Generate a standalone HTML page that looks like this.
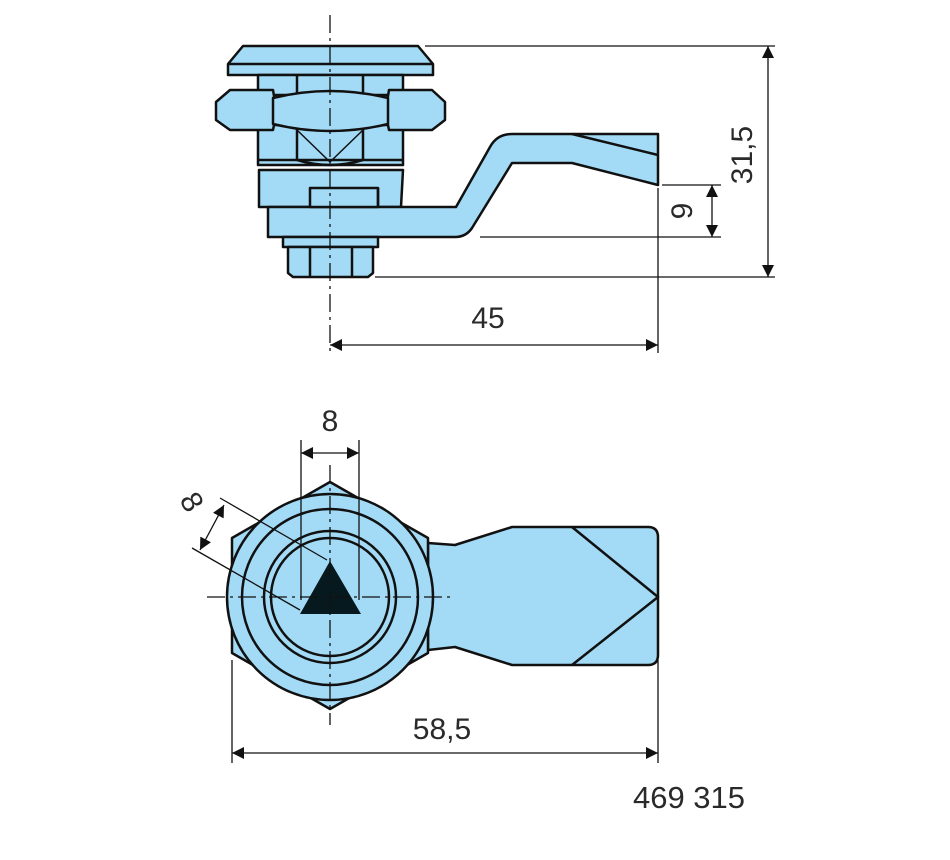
<!DOCTYPE html>
<html><head><meta charset="utf-8"><style>
html,body{margin:0;padding:0;background:#fff}
svg{display:block}
text{font-family:"Liberation Sans",sans-serif;fill:#2a2a2a}
</style></head><body>
<svg width="950" height="860" viewBox="0 0 950 860" xmlns="http://www.w3.org/2000/svg">
<defs>
<marker id="b" viewBox="0 0 10 10" refX="10" refY="5" markerWidth="16" markerHeight="12" markerUnits="userSpaceOnUse" orient="auto-start-reverse"><path d="M0,0L10,5L0,10z" fill="#111"/></marker>
</defs>
<g fill="#a3dbf6" stroke="#111" stroke-width="2.5" stroke-linejoin="round">
<path d="M243,46H418L433,64V75H228V64Z"/>
<line x1="228" y1="64" x2="433" y2="64"/>
<rect x="258" y="75" width="145" height="20"/>
<line x1="297" y1="75" x2="297" y2="95"/><line x1="363" y1="75" x2="363" y2="95"/>
<rect x="258" y="125" width="145" height="40"/>
<line x1="297" y1="125" x2="297" y2="160"/><line x1="363" y1="125" x2="363" y2="160"/>
<path d="M297,160Q330,170 363,160" fill="none"/>
<line x1="297" y1="130" x2="330" y2="162" stroke-width="1.5"/><line x1="363" y1="130" x2="330" y2="162" stroke-width="1.5"/>
<line x1="258" y1="160" x2="403" y2="160"/>
<path d="M259,170H403L401,207H259Z"/>
<path d="M216,102L230,90H273L275,102V120L273,130H230L216,120Z"/>
<path d="M387,102L389,90H432L445,102V120L432,130H389L387,120Z"/>
<path d="M273,98Q330,84 388,98V124Q330,138 273,124Z"/>
<path d="M268,207H456L490,147Q497,134 512,134H658V185L572,163H512L472,228Q466,237 455,237H268Z"/>
<line x1="572" y1="134" x2="658" y2="155"/>
<rect x="310" y="188" width="68" height="19"/>
<line x1="378" y1="188" x2="378" y2="207"/>
<rect x="283" y="237" width="95" height="10"/>
<path d="M288,247H373V273L368,277H293L288,273Z"/>
<line x1="310" y1="247" x2="310" y2="277"/><line x1="352" y1="247" x2="352" y2="277"/>
<path d="M428,543L455,545L512,527H648Q658,527 658,537V655Q658,665 648,665H512L455,647L428,650Z"/>
<path d="M572,527L658,597L572,665" fill="none"/>
<path d="M330,482L428,538V653L330,709L232,653V538Z"/>
<circle cx="330" cy="597" r="103"/>
<circle cx="330" cy="597" r="88"/>
<circle cx="330" cy="597" r="66"/>
<circle cx="330" cy="597" r="59"/>
</g>
<path d="M330,561L300,614H361Z" fill="#06191f"/>
<g stroke="#111" stroke-width="1.3" fill="none">
<line x1="330" y1="15" x2="330" y2="352" stroke-dasharray="18,5,3,5"/>
<line x1="330" y1="465" x2="330" y2="725" stroke-dasharray="18,5,3,5"/>
<line x1="207" y1="597" x2="455" y2="597" stroke-dasharray="18,5,3,5"/>
<line x1="425" y1="46" x2="775" y2="46"/>
<line x1="375" y1="277" x2="775" y2="277"/>
<line x1="768" y1="46" x2="768" y2="277" marker-start="url(#b)" marker-end="url(#b)"/>
<line x1="662" y1="185" x2="721" y2="185"/>
<line x1="480" y1="237" x2="721" y2="237"/>
<line x1="712" y1="185" x2="712" y2="237" marker-start="url(#b)" marker-end="url(#b)"/>
<line x1="658" y1="188" x2="658" y2="353"/>
<line x1="330" y1="345" x2="658" y2="345" marker-start="url(#b)" marker-end="url(#b)"/>
<line x1="301" y1="440" x2="301" y2="600"/>
<line x1="359" y1="440" x2="359" y2="600"/>
<line x1="301" y1="453" x2="359" y2="453" marker-start="url(#b)" marker-end="url(#b)"/>
<line x1="220" y1="498" x2="327" y2="560"/>
<line x1="192" y1="548" x2="300" y2="610"/>
<line x1="224" y1="505" x2="200" y2="550" marker-start="url(#b)" marker-end="url(#b)"/>
<line x1="232" y1="660" x2="232" y2="763"/>
<line x1="658" y1="660" x2="658" y2="763"/>
<line x1="232" y1="753" x2="658" y2="753" marker-start="url(#b)" marker-end="url(#b)"/>
</g>
<text x="488" y="328" font-size="30" text-anchor="middle">45</text>
<text transform="translate(752,155) rotate(-90)" font-size="30" text-anchor="middle">31,5</text>
<text transform="translate(692,211) rotate(-90)" font-size="30" text-anchor="middle">9</text>
<text x="330" y="431" font-size="30" text-anchor="middle">8</text>
<text transform="translate(183,507) rotate(60)" font-size="30" text-anchor="middle">8</text>
<text x="442" y="739" font-size="30" text-anchor="middle">58,5</text>
<text x="689" y="808" font-size="31" text-anchor="middle">469 315</text>
</svg>
</body></html>
